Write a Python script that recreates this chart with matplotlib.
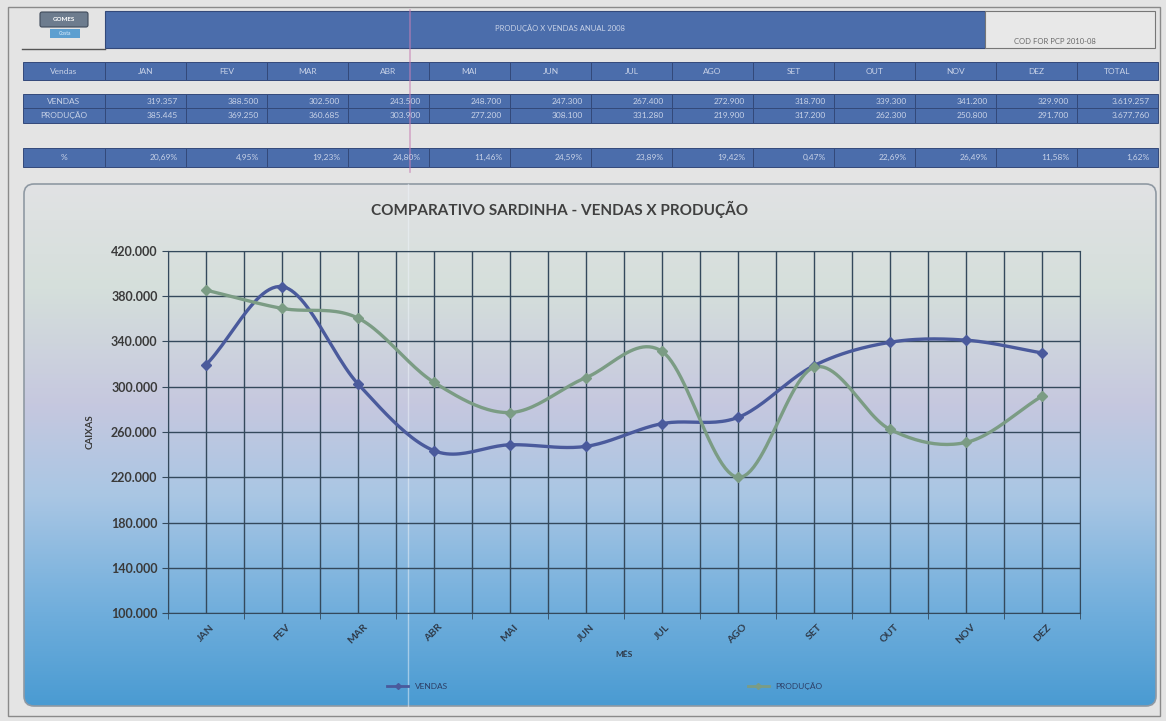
import numpy as np
import matplotlib
matplotlib.use("Agg")
import matplotlib.pyplot as plt
from matplotlib.patches import Rectangle, FancyBboxPatch
from matplotlib.colors import LinearSegmentedColormap
from matplotlib.lines import Line2D
from matplotlib.ticker import FuncFormatter

meses = ["JAN", "FEV", "MAR", "ABR", "MAI", "JUN", "JUL", "AGO", "SET", "OUT", "NOV", "DEZ"]
vendas = [319357, 388500, 302500, 243500, 248700, 247300, 267400, 272900, 318700, 339300, 341200, 329900]
producao = [385445, 369250, 360685, 303900, 277200, 308100, 331280, 219900, 317200, 262300, 250800, 291700]
header_cols = ["Vendas"] + meses + ["TOTAL"]
row_names = ["VENDAS", "PRODUÇÃO", "%"]

W, H = 1166, 721
plt.rcParams["font.family"] = ["Lato", "DejaVu Sans"]

fig = plt.figure(figsize=(W / 100, H / 100), dpi=100)
fig.patch.set_facecolor("#e4e4e4")

# background axes in pixel coordinates
bg = fig.add_axes([0, 0, 1, 1])
bg.set_xlim(0, W)
bg.set_ylim(H, 0)
bg.axis("off")


def fmt_int(v):
    return f"{v:,.0f}".replace(",", ".")


def fmt_pct(v):
    return f"{v:.2f}%".replace(".", ",")


blue = "#4b6dab"
edge = "#33497a"
txt = "#c9d3e8"

# outer frame
bg.add_patch(Rectangle((8, 7), 1152, 709, fill=False, ec="#8a8a8a", lw=1))

# logo
bg.add_patch(FancyBboxPatch((42, 14), 44, 11, boxstyle="round,pad=2", fc="#6d7c8e", ec="#3f4a5a", lw=0.8))
bg.text(64, 19.5, "GOMES", ha="center", va="center", fontsize=4.5, color="white", weight="bold")
bg.add_patch(Rectangle((50, 29), 30, 9, fc="#5d9fd0", ec="none"))
bg.text(65, 33.5, "Costa", ha="center", va="center", fontsize=3.5, color="#dfefff")
bg.plot([22, 105], [49, 49], color="#555", lw=1)

# title banner and code box
bg.add_patch(Rectangle((105, 11), 880, 37, fc=blue, ec=edge, lw=0.8))
bg.text(560, 28, "PRODUÇÃO X VENDAS ANUAL 2008", ha="center", va="center", fontsize=5.5, color=txt)
bg.add_patch(Rectangle((985, 11), 170, 37, fc="#e8e8e8", ec="#777", lw=0.8))
bg.text(1055, 42, "COD FOR PCP 2010-08", ha="center", va="center", fontsize=5.5, color="#6a6a6a")

# summary table
x0, lab_w = 23, 82
col_w = (1158 - (x0 + lab_w)) / 13
totals_v = sum(vendas)
totals_p = sum(producao)
pct = [abs(p - v) / v * 100 for v, p in zip(vendas, producao)]
pct_total = abs(totals_p - totals_v) / totals_v * 100

rows = [
    (62, 18, [header_cols[0]], header_cols[1:], "center"),
    (94, 14, [row_names[0]], [fmt_int(v) for v in vendas] + [fmt_int(totals_v)], "right"),
    (108, 15, [row_names[1]], [fmt_int(v) for v in producao] + [fmt_int(totals_p)], "right"),
    (148, 19, [row_names[2]], [fmt_pct(v) for v in pct] + [fmt_pct(pct_total)], "right"),
]
for y, h, lab, vals, align in rows:
    bg.add_patch(Rectangle((x0, y), lab_w, h, fc=blue, ec=edge, lw=0.7))
    bg.text(x0 + lab_w / 2, y + h / 2, lab[0], ha="center", va="center", fontsize=6, color=txt)
    for i, s in enumerate(vals):
        cx = x0 + lab_w + i * col_w
        bg.add_patch(Rectangle((cx, y), col_w, h, fc=blue, ec=edge, lw=0.7))
        if align == "center":
            bg.text(cx + col_w / 2, y + h / 2, s, ha="center", va="center", fontsize=6, color=txt)
        else:
            bg.text(cx + col_w - 8, y + h / 2, s, ha="right", va="center", fontsize=6, color=txt)

# chart panel with vertical gradient
stops = [(0.0, "#e1e2e4"), (0.2, "#d5dfdb"), (0.42, "#c6c8df"), (0.6, "#a9c6e4"),
         (0.82, "#70aedc"), (1.0, "#4a9bd2")]
cmap = LinearSegmentedColormap.from_list("painel", stops)
panel = FancyBboxPatch((24, 184), 1132, 522, boxstyle="round,pad=0,rounding_size=10",
                       fc="none", ec="#8f99a3", lw=1.2)
bg.add_patch(panel)
grad = bg.imshow(np.linspace(0, 1, 256).reshape(-1, 1), cmap=cmap, aspect="auto",
                 extent=[24, 1156, 706, 184], zorder=0)
grad.set_clip_path(panel)
bg.set_xlim(0, W)
bg.set_ylim(H, 0)

# faint screen artifact line
bg.plot([410, 410], [10, 172], color="#c77fb4", lw=1.2, alpha=0.6)
bg.plot([408, 408], [184, 706], color="#eef4fa", lw=1, alpha=0.5)


def smooth(xs, ys, n=24):
    # Catmull-Rom curve through the points
    xs = np.asarray(xs, float)
    ys = np.asarray(ys, float)
    px = np.concatenate([[2 * xs[0] - xs[1]], xs, [2 * xs[-1] - xs[-2]]])
    py = np.concatenate([[2 * ys[0] - ys[1]], ys, [2 * ys[-1] - ys[-2]]])
    ox, oy = [], []
    t = np.linspace(0, 1, n, endpoint=False)
    for i in range(1, len(px) - 2):
        for p, out in ((px, ox), (py, oy)):
            p0, p1, p2, p3 = p[i - 1], p[i], p[i + 1], p[i + 2]
            out.extend(0.5 * (2 * p1 + (-p0 + p2) * t + (2 * p0 - 5 * p1 + 4 * p2 - p3) * t ** 2
                              + (-p0 + 3 * p1 - 3 * p2 + p3) * t ** 3))
    ox.append(xs[-1])
    oy.append(ys[-1])
    return np.array(ox), np.array(oy)


ax = fig.add_axes([168 / W, 1 - 613 / H, 912 / W, 362 / H])
ax.patch.set_alpha(0)
x = np.arange(len(meses))
c_v = "#4a5a9c"
c_p = "#7b9c84"
for serie, cor in ((vendas, c_v), (producao, c_p)):
    sx, sy = smooth(x, serie)
    ax.plot(sx, sy, color=cor, lw=2.4, zorder=3)
    ax.plot(x, serie, ls="none", marker="D", ms=5.5, color=cor, mec=cor, zorder=4)

ax.set_xlim(-0.5, 11.5)
ax.set_ylim(100000, 420000)
ax.set_yticks(np.arange(100000, 420001, 40000))
ax.yaxis.set_major_formatter(FuncFormatter(lambda v, _: fmt_int(v)))
ax.set_xticks(x)
ax.set_xticklabels(meses, rotation=45, ha="center", va="top")
ax.set_xticks(np.arange(-0.5, 12, 1), minor=True)
ax.grid(True, which="both", color="#34495c", lw=1)
ax.tick_params(axis="x", which="major", length=0, pad=7, labelsize=7.5, colors="#2f3b4a")
ax.tick_params(axis="x", which="minor", length=4, color="#34495c")
ax.tick_params(axis="y", length=4, color="#34495c", labelsize=9, colors="#3a3a3a")
for lab in ax.get_xticklabels() + ax.get_yticklabels():
    lab.set_fontweight("bold")
for s in ax.spines.values():
    s.set_color("#34495c")
ax.set_ylabel("CAIXAS", fontsize=7, color="#3a3a3a", weight="bold", labelpad=12)
ax.set_xlabel("MÊS", fontsize=6, color="#2f3b4a", weight="bold", labelpad=4)

fig.text(560 / W, 1 - 209 / H, "COMPARATIVO SARDINHA - VENDAS X PRODUÇÃO", ha="center", va="center",
         fontsize=11, weight="bold", color="#404040")

handles = [Line2D([], [], color=c_v, lw=2, marker="D", ms=3),
           Line2D([], [], color=c_p, lw=2, marker="D", ms=3)]
fig.legend(handles, ["VENDAS", "PRODUÇÃO"], loc="center", bbox_to_anchor=(605 / W, 1 - 686 / H),
           ncol=2, frameon=False, fontsize=6, handlelength=2.5, columnspacing=36, labelcolor="#2c3e66")

fig.savefig("out.png", dpi=100, facecolor=fig.get_facecolor())
